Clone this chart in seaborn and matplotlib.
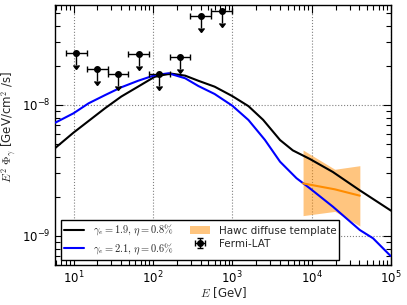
import numpy as np
import pandas as pd
import matplotlib
matplotlib.use("Agg")
import matplotlib.pyplot as plt
from matplotlib.font_manager import FontProperties
import seaborn as sns

# ---------------- data ----------------
# model 1: gamma_e = 1.9, eta = 0.8%
black_E = [5.9, 10, 25, 40, 65, 105, 165, 255, 375, 600, 1000, 1600, 2450,
           4000, 5800, 9500, 18500, 40000, 100000]
black_F = [4.7e-9, 6.15e-9, 9.45e-9, 1.16e-8, 1.38e-8, 1.64e-8, 1.74e-8,
           1.675e-8, 1.53e-8, 1.38e-8, 1.17e-8, 9.8e-9, 7.7e-9, 5.4e-9,
           4.5e-9, 3.87e-9, 3.08e-9, 2.24e-9, 1.56e-9]

# model 2: gamma_e = 2.1, eta = 0.6%
blue_E = [5.9, 10, 15.5, 25, 40, 65, 105, 157, 255, 375, 600, 1000, 1600,
          2580, 4000, 6450, 9500, 18600, 40500, 59400, 99000]
blue_F = [7.33e-9, 8.64e-9, 1.03e-8, 1.19e-8, 1.365e-8, 1.53e-8, 1.686e-8,
          1.746e-8, 1.60e-8, 1.395e-8, 1.213e-8, 9.88e-9, 7.68e-9, 5.41e-9,
          3.69e-9, 2.76e-9, 2.31e-9, 1.67e-9, 1.11e-9, 9.6e-10, 7.03e-10]

# HAWC diffuse template band
hawc_E = [7800, 19600, 40500]
hawc_lo = [1.43e-9, 1.54e-9, 1.19e-9]
hawc_hi = [4.53e-9, 3.23e-9, 3.44e-9]
hawc_mid = [2.52e-9, 2.27e-9, 2.03e-9]

# Fermi-LAT upper limits
fermi_E = [10.8, 19.9, 36.2, 66.5, 121, 221, 403, 740]
fermi_lo = [8.0, 14.6, 27.0, 48.7, 89, 162, 296, 541]
fermi_hi = [14.6, 27.0, 48.7, 89, 162, 296, 541, 990]
fermi_F = [2.49e-8, 1.89e-8, 1.71e-8, 2.44e-8, 1.72e-8, 2.32e-8, 4.78e-8, 5.22e-8]

labels = [r'$\gamma_e=1.9,\,\eta=0.8\%$', r'$\gamma_e=2.1,\,\eta=0.6\%$',
          'Hawc diffuse template', 'Fermi-LAT']

# ---------------- style ----------------
sns.set_style("ticks")
plt.rcParams['font.family'] = ['DejaVu Sans']
plt.rcParams['axes.linewidth'] = 1.0

fig = plt.figure(figsize=(4.07, 3.05), dpi=100)
ax = fig.add_axes([0.1359, 0.1311, 0.8248, 0.8525])

df_b = pd.DataFrame({'E': black_E, 'F': black_F})
df_u = pd.DataFrame({'E': blue_E, 'F': blue_F})
df_h = pd.DataFrame({'E': hawc_E, 'F': hawc_mid})

sns.lineplot(data=df_b, x='E', y='F', color='k', lw=1.5, label=labels[0],
             ax=ax, zorder=3, legend=False)
sns.lineplot(data=df_u, x='E', y='F', color='#0000ff', lw=1.5, label=labels[1],
             ax=ax, zorder=3, legend=False)
ax.fill_between(hawc_E, hawc_lo, hawc_hi, color='darkorange', alpha=0.5,
                lw=0, label=labels[2], zorder=2)
sns.lineplot(data=df_h, x='E', y='F', color='darkorange', lw=1.5, ax=ax,
             zorder=4, legend=False)

fE = np.array(fermi_E)
fF = np.array(fermi_F)
xerr = [fE - np.array(fermi_lo), np.array(fermi_hi) - fE]
ax.errorbar(fE, fF, xerr=xerr, yerr=0.19 * fF, uplims=True, fmt='o',
            color='k', ecolor='k', ms=4, capsize=2, elinewidth=1,
            label=labels[3], zorder=5)

ax.set_xscale('log')
ax.set_yscale('log')
ax.set_xlim(5.9, 1e5)
ax.set_ylim(6e-10, 5.8e-8)

ax.grid(True, which='major', linestyle=':', color='gray', lw=0.8)
ax.tick_params(which='both', direction='in', top=True, right=True,
               labelsize=8.5, colors='k')
ax.tick_params(which='major', length=6, width=0.8)
ax.tick_params(which='minor', length=3.5, width=0.8)
for s in ax.spines.values():
    s.set_color('k')

ax.set_xlabel(r'$E$ [GeV]', fontsize=8.5, math_fontfamily='cm', labelpad=-1)
ax.set_ylabel(r'$E^2\ \Phi_\gamma$ [GeV/cm$^2$ /s]', fontsize=8.5,
              math_fontfamily='cm')
ax.yaxis.set_label_coords(-0.107, 0.53)

handles, labs = ax.get_legend_handles_labels()
leg = ax.legend(handles, labs, loc='lower left', ncol=2,
                prop=FontProperties(size=7.5, math_fontfamily='cm'),
                fancybox=False, edgecolor='k', framealpha=1,
                borderaxespad=0.5, labelspacing=0.3, borderpad=0.3,
                columnspacing=1.5)
leg.get_frame().set_linewidth(1.0)

fig.savefig('out.png', dpi=100)
